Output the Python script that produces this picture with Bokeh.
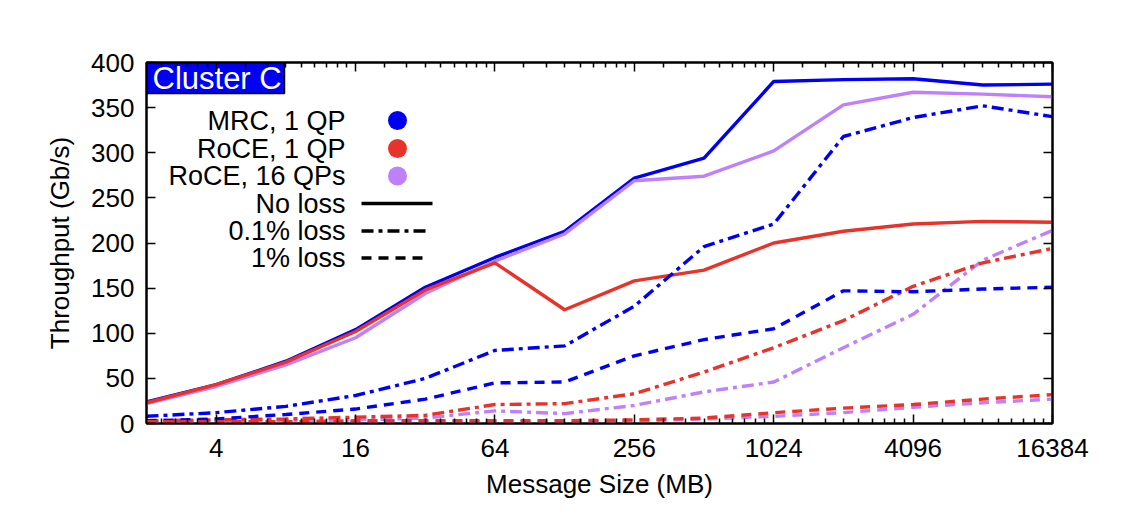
from bokeh.plotting import figure
from bokeh.models import (FixedTicker, SingleIntervalTicker, LinearAxis, LogAxis,
                          Range1d, LinearScale, PrintfTickFormatter, CustomJSTickFormatter)
from bokeh.embed import file_html
from bokeh.resources import INLINE
from bokeh.core.properties import value

# Message sizes (MB): 2, 4, ..., 16384
msg_size = [2, 4, 8, 16, 32, 64, 128, 256, 512, 1024, 2048, 4096, 8192, 16384]

# Throughput (Gb/s)
mrc_1qp_noloss = [24, 43, 69, 104, 151, 184, 213, 272, 294, 379, 381, 382, 375, 376]
roce_1qp_noloss = [23, 43, 68, 102, 148, 178, 126, 158, 170, 200, 213, 221, 224, 223]
roce_16qp_noloss = [22, 41, 65, 95, 144, 180, 210, 269, 274, 302, 353, 367, 365, 362]

mrc_1qp_loss01 = [8, 12, 19, 31, 50, 81, 86, 130, 196, 221, 318, 339, 352, 340]
roce_1qp_loss01 = [3, 4, 5, 7, 9, 21, 22, 33, 57, 84, 114, 152, 178, 194]
roce_16qp_loss01 = [2, 3, 3, 4, 6, 14, 11, 20, 35, 46, 84, 121, 181, 214]

mrc_1qp_loss1 = [3, 5, 10, 16, 27, 45, 46, 75, 93, 105, 147, 146, 149, 151]
roce_1qp_loss1 = [2, 2, 2, 3, 3, 3, 3, 4, 6, 12, 17, 21, 27, 32]
roce_16qp_loss1 = [1, 1, 1, 2, 2, 2, 2, 3, 5, 8, 12, 18, 23, 27]

x_major_ticks = [4, 16, 64, 256, 1024, 4096, 16384]

series_names = ["MRC, 1 QP", "RoCE, 1 QP", "RoCE, 16 QPs"]
loss_names = ["No loss", "0.1% loss", "1% loss"]

BLUE = "#0000f5"
RED = "#e8332b"
PURPLE = "#bf80fb"
colors = [BLUE, RED, PURPLE]
dashes = ["solid", "12 5 4 5", "10 7"]
FONT = "Liberation Sans"
LW = 3.4

FW, FH = 906, 361
p = figure(x_axis_type="log", x_range=Range1d(2, 16384), y_range=Range1d(0, 400),
           frame_width=FW, frame_height=FH,
           min_border_left=146, min_border_right=96, min_border_top=62, min_border_bottom=95,
           output_backend="svg", toolbar_location=None)
p.background_fill_color = "white"
p.border_fill_color = "white"
p.outline_line_color = "black"
p.outline_line_width = 2
p.xgrid.visible = False
p.ygrid.visible = False

# pixel space of the frame, used for the key and the cluster tag
p.extra_x_ranges = {"px": Range1d(0, FW)}
p.extra_x_scales = {"px": LinearScale()}
p.extra_y_ranges = {"px": Range1d(0, FH)}

# minor ticks: each power-of-4 interval split into 9 linear steps
x_minor_ticks = []
for m in range(0, 7):
    for n in range(1, 9):
        v = 4 ** m * (1 + n / 3)
        if 2 < v < 16384:
            x_minor_ticks.append(v)

x_ticker = FixedTicker(ticks=x_major_ticks, minor_ticks=x_minor_ticks)
y_ticker = SingleIntervalTicker(interval=50, num_minor_ticks=0)


def style_axis(ax):
    ax.major_tick_in = 9
    ax.major_tick_out = 0
    ax.minor_tick_in = 5
    ax.minor_tick_out = 0
    ax.major_tick_line_width = 1.5
    ax.minor_tick_line_width = 1.5
    ax.axis_line_width = 2
    ax.major_label_text_font = FONT
    ax.major_label_text_font_size = "26px"
    ax.major_label_text_color = "black"
    ax.axis_label_text_font = FONT
    ax.axis_label_text_font_size = "26px"
    ax.axis_label_text_font_style = "normal"
    ax.axis_label_text_color = "black"


xa = p.xaxis[0]
xa.ticker = x_ticker
xa.formatter = PrintfTickFormatter(format="%d")
xa.axis_label = "Message Size (MB)"
style_axis(xa)
xa.major_label_standoff = 15
xa.axis_label_standoff = 9

ya = p.yaxis[0]
ya.ticker = y_ticker
ya.axis_label = "Throughput (Gb/s)"
style_axis(ya)
ya.minor_tick_line_color = None
ya.major_label_standoff = 12
ya.axis_label_standoff = 13

blank = CustomJSTickFormatter(code="return ''")
top = LogAxis(ticker=x_ticker, formatter=blank)
style_axis(top)
top.major_label_text_font_size = "0px"
top.major_label_standoff = 0
p.add_layout(top, "above")

right = LinearAxis(ticker=y_ticker, formatter=blank)
style_axis(right)
right.minor_tick_line_color = None
right.major_label_text_font_size = "0px"
right.major_label_standoff = 0
p.add_layout(right, "right")

groups = [
    (mrc_1qp_noloss, roce_16qp_noloss, roce_1qp_noloss),
    (mrc_1qp_loss01, roce_16qp_loss01, roce_1qp_loss01),
    (mrc_1qp_loss1, roce_16qp_loss1, roce_1qp_loss1),
]
draw_colors = [BLUE, PURPLE, RED]
for g, dash in zip(groups, dashes):
    for ys, c in zip(g, draw_colors):
        p.line(msg_size, ys, line_color=c, line_width=LW, line_dash=dash, line_cap="butt")

# cluster tag in the top-left corner
p.quad(left=[0], right=[138], bottom=[330], top=[FH], fill_color=BLUE, line_color="black",
       line_width=1.5, x_range_name="px", y_range_name="px")
p.text(x=[6], y=[345], text=["Cluster C"], text_color="white", text_font=value(FONT),
       text_font_size="31px", text_align="left", text_baseline="middle",
       x_range_name="px", y_range_name="px")

# key: labels right-aligned, samples to their right
key_labels = series_names + loss_names
key_rows = [303, 275, 247.5, 220, 192.5, 165.5]
p.text(x=[199] * 6, y=key_rows, text=key_labels, text_color="black", text_font=value(FONT),
       text_font_size="27px", text_align="right", text_baseline="middle",
       x_range_name="px", y_range_name="px")
p.scatter(x=[251] * 3, y=key_rows[:3], size=19, marker="circle", fill_color=colors,
          line_color=None, x_range_name="px", y_range_name="px")
for yk, dash, x1 in zip(key_rows[3:], dashes, [286, 281, 281]):
    p.line(x=[215, x1], y=[yk, yk], line_color="black", line_width=LW, line_dash=dash,
           line_cap="butt", x_range_name="px", y_range_name="px")

open("out.html", "w").write(file_html(p, INLINE))
